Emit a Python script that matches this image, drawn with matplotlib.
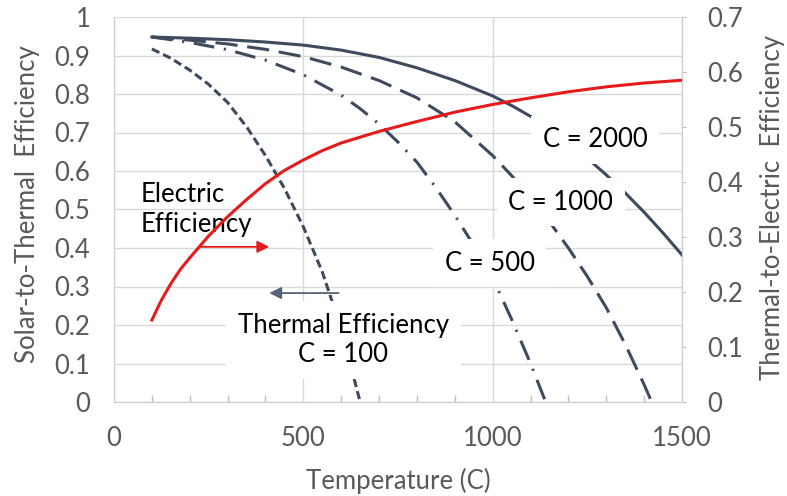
import numpy as np
import matplotlib
matplotlib.use("Agg")
import matplotlib.pyplot as plt
from matplotlib.ticker import MultipleLocator, FuncFormatter

plt.rcParams['font.family'] = ['Lato', 'DejaVu Sans']
plt.rcParams['lines.scale_dashes'] = False

# thermal efficiency curves (left axis)
temp_c2000 = [100, 200, 300, 400, 500, 600, 700, 800, 900, 1000, 1050, 1100, 1150, 1200, 1250, 1300, 1350, 1400, 1450, 1500]
eff_c2000 = [0.948, 0.945, 0.941, 0.935, 0.927, 0.914, 0.895, 0.868, 0.835, 0.795, 0.770, 0.742, 0.709, 0.672,
             0.633, 0.590, 0.543, 0.493, 0.439, 0.382]

temp_c1000 = [100, 200, 300, 400, 500, 600, 700, 800, 900, 1000, 1050, 1100, 1150, 1200, 1250, 1300, 1350, 1400, 1420]
eff_c1000 = [0.948, 0.940, 0.930, 0.916, 0.897, 0.870, 0.835, 0.790, 0.728, 0.640, 0.588, 0.530, 0.468, 0.400,
             0.326, 0.245, 0.150, 0.045, 0.0]

temp_c500 = [100, 200, 300, 400, 500, 600, 650, 700, 750, 800, 850, 900, 950, 1000, 1050, 1100, 1140]
eff_c500 = [0.948, 0.934, 0.915, 0.888, 0.850, 0.797, 0.762, 0.722, 0.675, 0.623, 0.557, 0.485, 0.407, 0.322,
            0.215, 0.10, 0.0]

temp_c100 = [100, 150, 200, 250, 300, 350, 400, 450, 500, 550, 600, 650]
eff_c100 = [0.917, 0.893, 0.862, 0.825, 0.778, 0.715, 0.640, 0.555, 0.455, 0.338, 0.19, 0.0]

# electric efficiency (right axis)
temp_elec = [100, 125, 150, 175, 200, 250, 300, 350, 400, 450, 500, 550, 600, 700, 800, 900, 1000, 1100, 1200,
             1300, 1400, 1500]
eff_elec = [0.149, 0.185, 0.215, 0.241, 0.262, 0.302, 0.337, 0.368, 0.397, 0.421, 0.440, 0.457, 0.471, 0.492,
            0.510, 0.527, 0.541, 0.553, 0.564, 0.573, 0.580, 0.585]

line_col = '#3e4a5e'
red = '#e61b1b'
grid_col = '#d9d9d9'
txt_gray = '#595959'
fs = 18.5

fig = plt.figure(figsize=(7.87, 4.96), dpi=100)
ax = fig.add_axes([114 / 787, 1 - 402 / 496, 568 / 787, 385 / 496])
ax2 = ax.twinx()

ax.plot(temp_c2000, eff_c2000, color=line_col, lw=2.2)
ax.plot(temp_c1000, eff_c1000, color=line_col, lw=2.2, dashes=(16, 7))
ax.plot(temp_c500, eff_c500, color=line_col, lw=2.2, dashes=(15, 7, 1.5, 7))
ax.plot(temp_c100, eff_c100, color=line_col, lw=2.2, dashes=(6, 3))

ax2.plot(temp_elec, eff_elec, color=red, lw=2.2)

ax.set_xlim(0, 1500)
ax.set_ylim(0, 1)
ax2.set_ylim(0, 0.7)

fmt = FuncFormatter(lambda v, p: '{:g}'.format(round(v, 2)))
ax.xaxis.set_major_locator(MultipleLocator(500))
ax.xaxis.set_minor_locator(MultipleLocator(100))
ax.yaxis.set_major_locator(MultipleLocator(0.1))
ax.yaxis.set_major_formatter(fmt)
ax2.yaxis.set_major_locator(MultipleLocator(0.1))
ax2.yaxis.set_major_formatter(fmt)

ax.grid(True, which='major', color=grid_col, lw=1)
ax.set_axisbelow(True)

ax.tick_params(axis='x', which='major', length=0, pad=17, labelsize=fs, labelcolor=txt_gray)
ax.tick_params(axis='x', which='minor', direction='in', length=5, color='#bfbfbf', width=1)
ax.tick_params(axis='y', length=0, pad=17, labelsize=fs, labelcolor=txt_gray)
ax2.tick_params(axis='y', length=3, color='#bfbfbf', pad=15, labelsize=fs, labelcolor=txt_gray)

for a in (ax, ax2):
    a.spines['top'].set_visible(False)
    for s in ('left', 'bottom', 'right'):
        a.spines[s].set_color('#cfcfcf')

ax.set_xlabel('Temperature (C)', fontsize=fs, color=txt_gray)
ax.xaxis.set_label_coords(0.5, -0.17)
ax.set_ylabel('Solar-to-Thermal  Efficiency', fontsize=fs, color=txt_gray)
ax.yaxis.set_label_coords(-0.13, 0.515)
ax2.set_ylabel('Thermal-to-Electric  Efficiency', fontsize=fs, color=txt_gray, rotation=90)
ax2.yaxis.set_label_coords(1.137, 0.505)

# labels sit on white boxes that hide the lines behind them
box = dict(boxstyle='square,pad=0.45', fc='white', ec='none')
tr = ax.transData
ax2.text(1270, 0.681, 'C = 2000', transform=tr, fontsize=fs, ha='center', va='center', bbox=box, zorder=5)
ax2.text(1180, 0.519, 'C = 1000', transform=tr, fontsize=fs, ha='center', va='center', bbox=box, zorder=5)
ax2.text(992, 0.361, 'C = 500', transform=tr, fontsize=fs, ha='center', va='center', bbox=box, zorder=5)
ax2.text(606, 0.161, 'Thermal Efficiency\nC = 100', transform=tr, fontsize=fs, ha='center', va='center',
         linespacing=1.2, bbox=box, zorder=5)
ax2.text(71, 0.501, 'Electric\nEfficiency', transform=tr, fontsize=fs, ha='left', va='center',
         linespacing=1.25, zorder=1)

# arrows pointing at the axes each curve belongs to
ax2.annotate('', xy=(410, 0.403), xytext=(228, 0.403), xycoords=tr, textcoords=tr,
             arrowprops=dict(arrowstyle='-|>', color=red, lw=1.3, mutation_scale=18, shrinkA=0, shrinkB=0),
             zorder=6)
ax2.annotate('', xy=(410, 0.283), xytext=(593, 0.283), xycoords=tr, textcoords=tr,
             arrowprops=dict(arrowstyle='-|>', color='#56627a', lw=1.3, mutation_scale=18, shrinkA=0, shrinkB=0),
             zorder=6)

fig.savefig('out.png', dpi=100)
